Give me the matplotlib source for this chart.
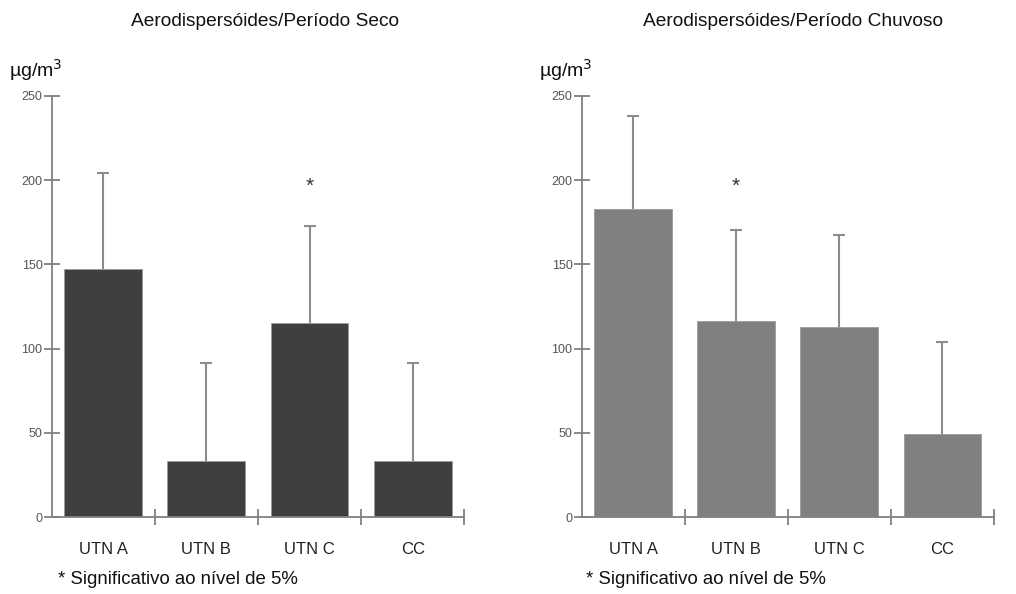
import matplotlib
matplotlib.use("Agg")
import matplotlib.pyplot as plt
import numpy as np

# Data (µg/m³): mean and upper standard deviation per sampling site
categories = ["UTN A", "UTN B", "UTN C", "CC"]
seco_mean = [147.2, 33.6, 115.0, 33.6]
seco_err = [56.8, 57.7, 57.6, 57.7]
chuvoso_mean = [183.0, 116.5, 113.0, 49.2]
chuvoso_err = [55.0, 54.0, 54.4, 54.6]
seco_sig = [2]       # index of significant category
chuvoso_sig = [1]
yticks = [0, 50, 100, 150, 200, 250]

W, H = 1016, 594
FONT = ["Liberation Sans", "DejaVu Sans"]
plt.rcParams["font.family"] = FONT

fig = plt.figure(figsize=(W / 100, H / 100), dpi=100)


def px(x, y):
    return x / W, 1 - y / H


def panel(left_px, right_px, means, errs, sig, color, title, title_x, unit_x, note_x):
    bottom_px, top_px = 517.3, 95.7
    ax = fig.add_axes([left_px / W, 1 - bottom_px / H,
                       (right_px - left_px) / W, (bottom_px - top_px) / H])
    x = np.arange(len(categories))
    means = np.asarray(means)
    errs = np.asarray(errs)
    ax.bar(x, means, width=0.755, color=color, edgecolor="#9a9a9a",
           linewidth=0.6, zorder=2)
    _, caps, _ = ax.errorbar(x, means, yerr=[np.zeros(len(errs)), errs],
                             fmt="none", ecolor="#8c8c8c", elinewidth=1.5,
                             capsize=4.5, capthick=1.5, zorder=1)
    # keep only the upper caps
    for c in caps:
        if np.allclose(c.get_ydata(), means):
            c.remove()
    for i in sig:
        ax.text(x[i], 196, "*", ha="center", va="center", fontsize=15,
                color="#333333")
    ax.set_xlim(-0.5, 3.5)
    ax.set_ylim(0, 250)
    for s in ["top", "right"]:
        ax.spines[s].set_visible(False)
    for s in ["left", "bottom"]:
        ax.spines[s].set_color("#808080")
        ax.spines[s].set_linewidth(1.3)
    ax.set_yticks(yticks)
    ax.set_yticklabels([str(v) for v in yticks])
    ax.tick_params(axis="y", direction="inout", length=11, width=1.3,
                   color="#808080", labelsize=9, labelcolor="#555555", pad=1)
    ax.set_xticks(x)
    ax.set_xticklabels(categories)
    ax.set_xticks(np.arange(0.5, 4.0, 1.0), minor=True)
    ax.tick_params(axis="x", which="major", length=0, labelsize=12,
                   labelcolor="#222222", pad=18)
    ax.tick_params(axis="x", which="minor", direction="inout", length=12,
                   width=1.3, color="#808080")

    fig.text(*px(title_x, 22), title, ha="center", va="center", fontsize=13.8,
             color="#111111")
    fig.text(*px(unit_x, 70), r"µg/m$^{3}$", ha="left", va="center",
             fontsize=14, color="#111111")
    fig.text(*px(note_x, 580), "* Significativo ao nível de 5%", ha="left",
             va="center", fontsize=13.4, color="#111111")
    return ax


panel(51.5, 464.3, seco_mean, seco_err, seco_sig, "#3f3f3f",
      "Aerodispersóides/Período Seco", 265, 9, 58)
panel(581.5, 994.0, chuvoso_mean, chuvoso_err, chuvoso_sig, "#808080",
      "Aerodispersóides/Período Chuvoso", 793, 539, 586)

fig.savefig("out.png", dpi=100, facecolor="white")
